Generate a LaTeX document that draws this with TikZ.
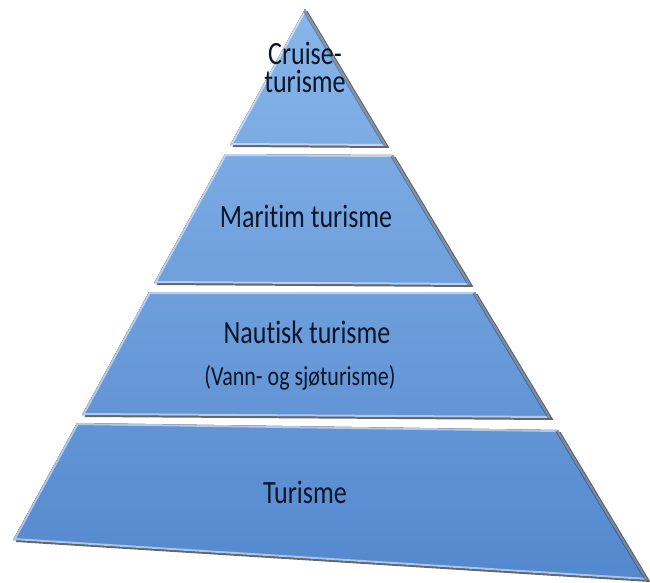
\documentclass[tikz,border=0pt]{standalone}
\usepackage{fontspec}
\setmainfont{Carlito}[Ligatures=NoCommon]
\usepackage{tikz}
\usetikzlibrary{shadows}
\definecolor{pyrTop}{RGB}{136,182,234}
\definecolor{pyrBot}{RGB}{84,136,206}
\definecolor{pyrText}{RGB}{12,22,40}
\newcommand\tall[1]{\scalebox{1}[1.25]{#1}}

\begin{document}
\begin{tikzpicture}[
        x=1pt, y=-1pt,
        layer/.style n args = {4}{
            drop shadow={shadow xshift=2.5pt, shadow yshift=-2pt, opacity=.6, fill=black},
            path picture={
                \draw[lightrim] (#1) -- (#2) -- (#3) -- (#4) -- cycle;
                \draw[darkrim] (#2) -- (#3);
            }},
        lightrim/.style = {white, opacity=.5, line width=4pt, line join=round},
        darkrim/.style  = {black, opacity=.3, line width=6pt},
        txt/.style      = {align=center, text=pyrText, inner sep=1pt, font=\fontsize{26}{24}\selectfont},
        subtxt/.style   = {text=pyrText, font=\fontsize{22}{26}\selectfont}
    ]
        \useasboundingbox (0,0) rectangle (650,583);
        \coordinate (apex) at (305,9);
        \coordinate (a1) at (230,145); \coordinate (b1) at (387,146);
        \coordinate (a2) at (225,154); \coordinate (b2) at (393,155);
        \coordinate (c2) at (471,285); \coordinate (d2) at (154,283);
        \coordinate (a3) at (149,292); \coordinate (b3) at (475,292);
        \coordinate (c3) at (551,418); \coordinate (d3) at (82,415);
        \coordinate (a4) at (77,423);  \coordinate (b4) at (558,430);
        \coordinate (c4) at (648,580); \coordinate (d4) at (13,540);
        \fill[layer={apex}{apex}{b1}{a1}, top color=pyrTop, bottom color=pyrBot!24!pyrTop]
            (apex) -- (b1) -- (a1) -- cycle;
        \fill[layer={a2}{b2}{c2}{d2}, top color=pyrBot!26!pyrTop, bottom color=pyrBot!48!pyrTop]
            (a2) -- (b2) -- (c2) -- (d2) -- cycle;
        \fill[layer={a3}{b3}{c3}{d3}, top color=pyrBot!50!pyrTop, bottom color=pyrBot!72!pyrTop]
            (a3) -- (b3) -- (c3) -- (d3) -- cycle;
        \fill[layer={a4}{b4}{c4}{d4}, top color=pyrBot!73!pyrTop, bottom color=pyrBot]
            (a4) -- (b4) -- (c4) -- (d4) -- cycle;
        \node[txt]    (cruise)  at (305,67)  {\tall{Cruise-}\\[4pt]\tall{turisme}};
        \node[txt]    (maritim) at (306,216) {\tall{Maritim turisme}};
        \node[txt]    (nautisk) at (307,332) {\tall{Nautisk turisme}};
        \node[subtxt] (vann)    at (300,378) {\tall{(Vann- og sjøturisme)}};
        \node[txt]    (turisme) at (305,492) {\tall{Turisme}};
    \end{tikzpicture}
\end{document}
